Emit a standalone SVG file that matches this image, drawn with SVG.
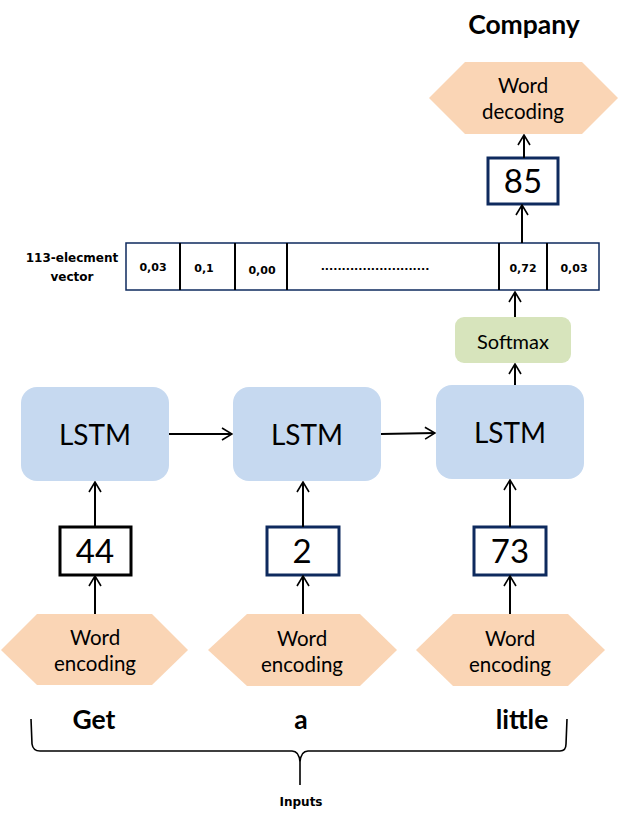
<svg xmlns="http://www.w3.org/2000/svg" width="636" height="822" viewBox="0 0 636 822">
<defs>
<marker id="arr" viewBox="0 0 12 14" refX="11" refY="7" markerWidth="12" markerHeight="14" markerUnits="userSpaceOnUse" orient="auto">
<path d="M1 1 L11 7 L1 13" fill="none" stroke="#000" stroke-width="1.6"/>
</marker>
<style>
text{font-family:Lato,"Liberation Sans",sans-serif;fill:#000;text-anchor:middle}
.lstm{fill:#C6D9F0}
.lstm-t{font-size:28px}
.hex{fill:#FAD5B5}
.hex-t{font-size:20.5px}
.num{fill:#fff;stroke-width:3}
.num-t{font-size:33px}
.b{font-weight:bold}
.big{font-size:26.5px;font-weight:bold}
.sm{font-family:"DejaVu Sans",sans-serif;font-weight:bold;font-size:12px}
.cell{font-family:"DejaVu Sans",sans-serif;font-size:11px;font-weight:bold}
.conn line,.conn path{stroke:#000;stroke-width:2;fill:none}
.div{stroke:#000;stroke-width:2}
</style>
</defs>
<rect width="636" height="822" fill="#fff"/>

<g id="title"><text class="big" x="524" y="34">Company</text></g>

<g id="word-decoding">
<polygon class="hex" points="429,98 465,62 582,62 618,98 582,134 465,134"/>
<text class="hex-t" x="523" y="93">Word</text>
<text class="hex-t" x="523" y="119">decoding</text>
</g>

<g id="out-85">
<rect class="num" x="488" y="158" width="70" height="46" stroke="#0E2A5E"/>
<text class="num-t" x="523" y="193">85</text>
</g>

<g id="vector-label">
<text class="sm" x="72" y="262">113-elecment</text>
<text class="sm" x="72" y="281">vector</text>
</g>

<g id="vector">
<rect x="126" y="243" width="473" height="47" fill="#fff" stroke="#0E2A5E" stroke-width="1.5"/>
<line class="div" x1="180" y1="243" x2="180" y2="290"/>
<line class="div" x1="235" y1="243" x2="235" y2="290"/>
<line class="div" x1="287" y1="243" x2="287" y2="290"/>
<line class="div" x1="499" y1="243" x2="499" y2="290"/>
<line class="div" x1="547" y1="243" x2="547" y2="290"/>
<text class="cell" x="153" y="271">0,03</text>
<text class="cell" x="204" y="272">0,1</text>
<text class="cell" x="262" y="274">0,00</text>
<text class="cell" x="375" y="270">..........................</text>
<text class="cell" x="523" y="272">0,72</text>
<text class="cell" x="574" y="272">0,03</text>
</g>

<g id="softmax">
<rect x="455" y="317" width="116" height="46" rx="9" fill="#D7E4BC"/>
<text x="513" y="349" font-size="20">Softmax</text>
</g>

<g id="lstm1">
<rect class="lstm" x="21" y="387" width="148" height="94" rx="16"/>
<text class="lstm-t" x="95" y="445">LSTM</text>
</g>
<g id="lstm2">
<rect class="lstm" x="233" y="387" width="148" height="94" rx="16"/>
<text class="lstm-t" x="307" y="445">LSTM</text>
</g>
<g id="lstm3">
<rect class="lstm" x="436" y="385" width="148" height="94" rx="16"/>
<text class="lstm-t" x="510" y="443">LSTM</text>
</g>

<g id="in-44">
<rect class="num" x="60" y="527" width="71" height="48" stroke="#000"/>
<text class="num-t" x="95" y="563">44</text>
</g>
<g id="in-2">
<rect class="num" x="267" y="527" width="72" height="48" stroke="#0E2A5E"/>
<text class="num-t" x="302" y="563">2</text>
</g>
<g id="in-73">
<rect class="num" x="474" y="527" width="72" height="48" stroke="#0E2A5E"/>
<text class="num-t" x="510" y="563">73</text>
</g>

<g id="enc1">
<polygon class="hex" points="1,650 37,614 152,614 188,650 152,685 37,685"/>
<text class="hex-t" x="95" y="645">Word</text>
<text class="hex-t" x="95" y="671">encoding</text>
</g>
<g id="enc2">
<polygon class="hex" points="208,650 247,614 360,614 397,650 360,686 247,686"/>
<text class="hex-t" x="302" y="646">Word</text>
<text class="hex-t" x="302" y="672">encoding</text>
</g>
<g id="enc3">
<polygon class="hex" points="416,650 453,614 568,614 605,650 568,686 453,686"/>
<text class="hex-t" x="510" y="646">Word</text>
<text class="hex-t" x="510" y="672">encoding</text>
</g>

<g id="words">
<text class="big" x="94" y="729">Get</text>
<text class="big" x="301" y="729">a</text>
<text class="big" x="522" y="729">little</text>
</g>

<g id="inputs">
<path d="M31 719 L32 744 Q33 751 40 751 L292 751 Q299 751 300 762 L300 785 M300 785 L300 762 Q301 751 308 751 L560 751 Q566 751 566 744 L567 719" fill="none" stroke="#000" stroke-width="1.6"/>
<text class="sm" x="301" y="806">Inputs</text>
</g>

<g class="conn" id="connectors">
<line x1="95" y1="614" x2="95" y2="576" marker-end="url(#arr)"/>
<line x1="303" y1="614" x2="303" y2="576" marker-end="url(#arr)"/>
<line x1="510" y1="614" x2="510" y2="576" marker-end="url(#arr)"/>
<line x1="95" y1="527" x2="95" y2="482" marker-end="url(#arr)"/>
<line x1="303" y1="527" x2="303" y2="482" marker-end="url(#arr)"/>
<line x1="510" y1="527" x2="510" y2="480" marker-end="url(#arr)"/>
<line x1="169" y1="434" x2="232" y2="434" marker-end="url(#arr)"/>
<line x1="381" y1="434" x2="435" y2="433" marker-end="url(#arr)"/>
<line x1="515" y1="385" x2="515" y2="364" marker-end="url(#arr)"/>
<line x1="515" y1="317" x2="515" y2="292" marker-end="url(#arr)"/>
<line x1="522" y1="243" x2="522" y2="205" marker-end="url(#arr)"/>
<line x1="524" y1="158" x2="524" y2="135" marker-end="url(#arr)"/>
</g>
</svg>
